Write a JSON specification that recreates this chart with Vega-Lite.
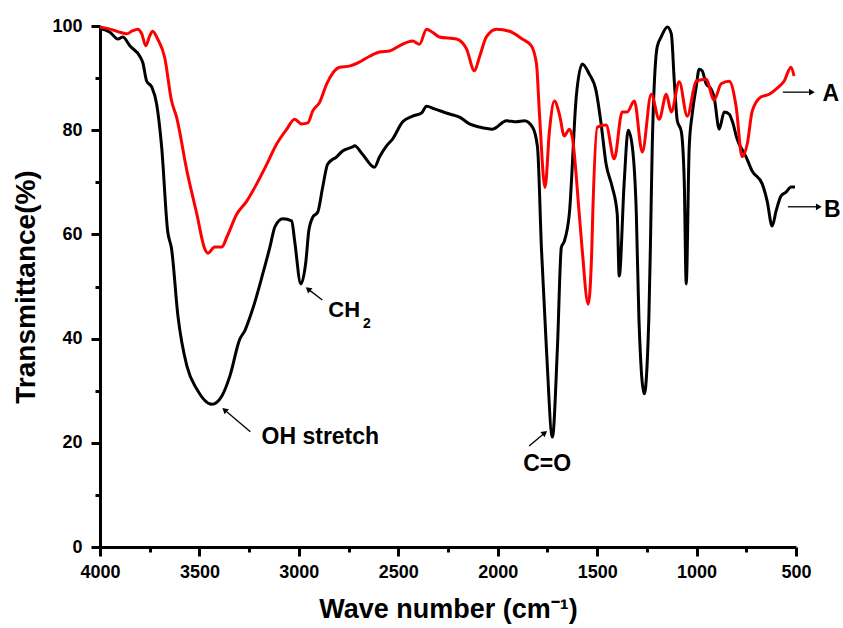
{
  "$schema": "https://vega.github.io/schema/vega-lite/v6.json",
  "autosize": "none",
  "width": 696,
  "height": 521,
  "padding": {"left": 100, "top": 26, "right": 47, "bottom": 81},
  "background": "white",
  "config": {
    "view": {"stroke": null},
    "font": "Liberation Sans",
    "axis": {
      "grid": false,
      "domainColor": "black",
      "domainWidth": 3,
      "tickColor": "black",
      "tickWidth": 3,
      "labelFont": "Liberation Sans",
      "labelFontWeight": "bold",
      "labelFontSize": 18,
      "labelColor": "black",
      "titleFont": "Liberation Sans",
      "titleFontWeight": "bold",
      "titleColor": "black"
    }
  },
  "datasets": {
    "B": [
      {"wn":4000,"t":99.5},{"wn":3950,"t":98.8},{"wn":3910,"t":97.5},{"wn":3885,"t":97.9},{"wn":3850,"t":96.2},
      {"wn":3800,"t":94.2},{"wn":3785,"t":93},{"wn":3765,"t":89.4},{"wn":3740,"t":88.3},{"wn":3715,"t":85},
      {"wn":3690,"t":76.8},{"wn":3660,"t":60.7},{"wn":3640,"t":57.2},{"wn":3608,"t":44.3},{"wn":3563,"t":34.7},
      {"wn":3513,"t":30.3},{"wn":3438,"t":27.4},{"wn":3387,"t":29},{"wn":3347,"t":32.8},{"wn":3297,"t":39.9},
      {"wn":3272,"t":41.5},{"wn":3232,"t":45.7},{"wn":3181,"t":52.5},{"wn":3146,"t":57.5},{"wn":3120,"t":61.5},
      {"wn":3081,"t":63},{"wn":3036,"t":62.6},{"wn":3021,"t":58.7},{"wn":2990,"t":50.5},{"wn":2965,"t":54.7},
      {"wn":2950,"t":60.7},{"wn":2930,"t":63.3},{"wn":2905,"t":64.3},{"wn":2880,"t":69.1},{"wn":2855,"t":73.5},
      {"wn":2810,"t":74.9},{"wn":2780,"t":76},{"wn":2730,"t":76.8},{"wn":2720,"t":77},{"wn":2680,"t":75.4},
      {"wn":2620,"t":72.9},{"wn":2594,"t":74.9},{"wn":2559,"t":77},{"wn":2529,"t":78.3},{"wn":2478,"t":81.6},
      {"wn":2428,"t":82.7},{"wn":2383,"t":83.3},{"wn":2358,"t":84.6},{"wn":2318,"t":84.1},{"wn":2242,"t":83.1},
      {"wn":2192,"t":82.5},{"wn":2142,"t":81.2},{"wn":2092,"t":80.6},{"wn":2026,"t":80.2},{"wn":1956,"t":81.8},
      {"wn":1906,"t":81.6},{"wn":1866,"t":81.8},{"wn":1825,"t":80.6},{"wn":1800,"t":76.8},{"wn":1780,"t":57.2},
      {"wn":1755,"t":38},{"wn":1725,"t":21.1},{"wn":1700,"t":38},{"wn":1680,"t":57.5},{"wn":1665,"t":58.7},
      {"wn":1640,"t":63.9},{"wn":1605,"t":86.4},{"wn":1575,"t":92.7},{"wn":1540,"t":90.8},{"wn":1505,"t":87.5},
      {"wn":1480,"t":81.2},{"wn":1455,"t":73.5},{"wn":1424,"t":69.1},{"wn":1399,"t":63.9},{"wn":1389,"t":52},
      {"wn":1364,"t":70},{"wn":1344,"t":80},{"wn":1323,"t":76.8},{"wn":1303,"t":64},{"wn":1290,"t":44},
      {"wn":1263,"t":29.4},{"wn":1240,"t":44},{"wn":1232,"t":58},{"wn":1223,"t":76.8},{"wn":1198,"t":96},
      {"wn":1178,"t":97.9},{"wn":1147,"t":99.8},{"wn":1127,"t":98.5},{"wn":1112,"t":89.4},{"wn":1097,"t":81.8},
      {"wn":1077,"t":79.8},{"wn":1062,"t":70.2},{"wn":1052,"t":50.5},{"wn":1037,"t":76.8},{"wn":1022,"t":83.1},
      {"wn":1002,"t":88.3},{"wn":987,"t":91.7},{"wn":972,"t":91.4},{"wn":952,"t":88.9},{"wn":927,"t":87.9},
      {"wn":912,"t":86.4},{"wn":886,"t":80.2},{"wn":861,"t":83.5},{"wn":836,"t":83.1},{"wn":821,"t":81.8},
      {"wn":796,"t":78.3},{"wn":751,"t":74.9},{"wn":721,"t":72.2},{"wn":670,"t":69.7},{"wn":645,"t":66.4},
      {"wn":620,"t":61.6},{"wn":600,"t":64.5},{"wn":575,"t":67.4},{"wn":550,"t":68.1},{"wn":525,"t":69.1},
      {"wn":505,"t":69.1}
    ],
    "A": [
      {"wn":4000,"t":99.8},{"wn":3950,"t":99.4},{"wn":3900,"t":98.8},{"wn":3865,"t":98.5},{"wn":3840,"t":99},
      {"wn":3810,"t":99.4},{"wn":3790,"t":98.5},{"wn":3770,"t":96.2},{"wn":3750,"t":98.1},{"wn":3735,"t":99},
      {"wn":3710,"t":97.5},{"wn":3675,"t":94},{"wn":3640,"t":85.6},{"wn":3615,"t":82.5},{"wn":3563,"t":72.2},
      {"wn":3513,"t":63.9},{"wn":3473,"t":57.2},{"wn":3458,"t":56.4},{"wn":3423,"t":57.6},{"wn":3387,"t":57.6},
      {"wn":3362,"t":59.5},{"wn":3312,"t":63.9},{"wn":3262,"t":66.4},{"wn":3212,"t":69.7},{"wn":3161,"t":73.5},
      {"wn":3111,"t":77.4},{"wn":3061,"t":80.2},{"wn":3021,"t":82.1},{"wn":2986,"t":81.2},{"wn":2955,"t":81.4},
      {"wn":2930,"t":83.7},{"wn":2895,"t":85.4},{"wn":2860,"t":88.9},{"wn":2795,"t":92.1},{"wn":2745,"t":92.3},
      {"wn":2694,"t":93.1},{"wn":2644,"t":94.2},{"wn":2594,"t":95},{"wn":2544,"t":95.2},{"wn":2494,"t":96.2},
      {"wn":2428,"t":97.1},{"wn":2393,"t":96.5},{"wn":2358,"t":99.4},{"wn":2328,"t":98.8},{"wn":2293,"t":97.9},
      {"wn":2207,"t":97.5},{"wn":2157,"t":95.6},{"wn":2117,"t":91.4},{"wn":2092,"t":94},{"wn":2057,"t":97.9},
      {"wn":2006,"t":99.4},{"wn":1941,"t":99},{"wn":1876,"t":97.5},{"wn":1831,"t":96.2},{"wn":1805,"t":92.7},
      {"wn":1790,"t":83.1},{"wn":1762,"t":69},{"wn":1740,"t":79.8},{"wn":1715,"t":85.6},{"wn":1690,"t":83.1},
      {"wn":1665,"t":78.9},{"wn":1640,"t":80.2},{"wn":1625,"t":78.7},{"wn":1590,"t":63.9},{"wn":1575,"t":57},
      {"wn":1545,"t":46.6},{"wn":1527,"t":57},{"wn":1522,"t":63.9},{"wn":1499,"t":80.6},{"wn":1455,"t":81},
      {"wn":1414,"t":74.5},{"wn":1374,"t":83.5},{"wn":1349,"t":83.5},{"wn":1313,"t":85.6},{"wn":1273,"t":75.8},
      {"wn":1228,"t":86.9},{"wn":1188,"t":82.1},{"wn":1152,"t":86.9},{"wn":1127,"t":83.5},{"wn":1087,"t":89.3},
      {"wn":1047,"t":82.7},{"wn":1002,"t":89.4},{"wn":952,"t":89.8},{"wn":912,"t":85.8},{"wn":876,"t":88.9},
      {"wn":836,"t":89.4},{"wn":801,"t":84.5},{"wn":771,"t":74.9},{"wn":745,"t":77.4},{"wn":720,"t":83.7},
      {"wn":675,"t":86.4},{"wn":635,"t":86.9},{"wn":600,"t":87.9},{"wn":560,"t":89.4},{"wn":525,"t":92.1},
      {"wn":510,"t":90.4}
    ],
    "labels": [
      {"txt":"OH stretch","wn":2892,"t":21.1},
      {"txt":"C=O","wn":1751,"t":15.9},
      {"txt":"A","wn":325,"t":86.9},
      {"txt":"B","wn":318,"t":64.7}
    ],
    "arrows": [
      {"name":"OH","wn":3244,"t":22.1,"wn2":3370,"t2":26.2},
      {"name":"CH2","wn":2882,"t":47.4,"wn2":2950,"t2":49.4},
      {"name":"CO","wn":1842,"t":19.4,"wn2":1767,"t2":21.8},
      {"name":"A","wn":566,"t":87.3,"wn2":425,"t2":87.3},
      {"name":"B","wn":541,"t":65.3,"wn2":390,"t2":65.3}
    ]
  },
  "encoding": {
    "x": {
      "field": "wn", "type": "quantitative",
      "scale": {"domain": [500, 4000], "reverse": true, "nice": false, "zero": false},
      "axis": {
        "title": "Wave number (cm⁻¹)",
        "titleFontSize": 27,
        "titlePadding": 15,
        "values": [4000,3750,3500,3250,3000,2750,2500,2250,2000,1750,1500,1250,1000,750,500],
        "labelExpr": "datum.value % 500 === 0 ? datum.label : ''",
        "format": "d",
        "tickSize": {"condition": {"test": "datum.value % 500 === 0", "value": 9}, "value": 5},
        "labelPadding": 7,
        "labelFlush": false
      }
    },
    "y": {
      "field": "t", "type": "quantitative",
      "scale": {"domain": [0, 100], "nice": false},
      "axis": {
        "title": "Transmittance(%)",
        "titleFontSize": 28,
        "titlePadding": 11,
        "values": [0,10,20,30,40,50,60,70,80,90,100],
        "labelExpr": "datum.value % 20 === 0 ? datum.label : ''",
        "tickSize": {"condition": {"test": "datum.value % 20 === 0", "value": 9}, "value": 5},
        "labelPadding": 9
      }
    }
  },
  "layer": [
    {
      "data": {"name": "B"},
      "mark": {"type": "line", "color": "black", "strokeWidth": 3, "interpolate": "monotone", "strokeJoin": "round"}
    },
    {
      "data": {"name": "A"},
      "mark": {"type": "line", "color": "#ff0000", "strokeWidth": 3, "interpolate": "monotone", "strokeJoin": "round"}
    },
    {
      "data": {"name": "arrows"},
      "mark": {"type": "rule", "color": "black", "strokeWidth": 1.3},
      "encoding": {"x2": {"field": "wn2"}, "y2": {"field": "t2"}}
    },
    {
      "data": {"name": "arrows"},
      "transform": [{"filter": "datum.name === 'A' || datum.name === 'B'"}],
      "mark": {"type": "point", "shape": "triangle", "filled": true, "color": "black", "size": 45, "angle": 90, "opacity": 1},
      "encoding": {"x": {"field": "wn2", "type": "quantitative"}, "y": {"field": "t2", "type": "quantitative"}}
    },
    {
      "data": {"name": "arrows"},
      "transform": [{"filter": "datum.name === 'OH' || datum.name === 'CH2'"}],
      "mark": {"type": "point", "shape": "triangle", "filled": true, "color": "black", "size": 45, "angle": 310, "opacity": 1},
      "encoding": {"x": {"field": "wn2", "type": "quantitative"}, "y": {"field": "t2", "type": "quantitative"}}
    },
    {
      "data": {"name": "arrows"},
      "transform": [{"filter": "datum.name === 'CO'"}],
      "mark": {"type": "point", "shape": "triangle", "filled": true, "color": "black", "size": 45, "angle": 52, "opacity": 1},
      "encoding": {"x": {"field": "wn2", "type": "quantitative"}, "y": {"field": "t2", "type": "quantitative"}}
    },
    {
      "data": {"name": "labels"},
      "mark": {"type": "text", "font": "Liberation Sans", "fontWeight": "bold", "fontSize": 23, "align": "center", "baseline": "middle", "color": "black"},
      "encoding": {"text": {"field": "txt"}}
    },
    {
      "data": {"values": [{"txt": "CH", "wn": 2852, "t": 45.5}]},
      "mark": {"type": "text", "font": "Liberation Sans", "fontWeight": "bold", "fontSize": 22, "align": "left", "baseline": "middle", "color": "black"},
      "encoding": {"text": {"field": "txt"}}
    },
    {
      "data": {"values": [{"txt": "2", "wn": 2678, "t": 42.8}]},
      "mark": {"type": "text", "font": "Liberation Sans", "fontWeight": "bold", "fontSize": 14, "align": "left", "baseline": "middle", "color": "black"},
      "encoding": {"text": {"field": "txt"}}
    }
  ]
}
